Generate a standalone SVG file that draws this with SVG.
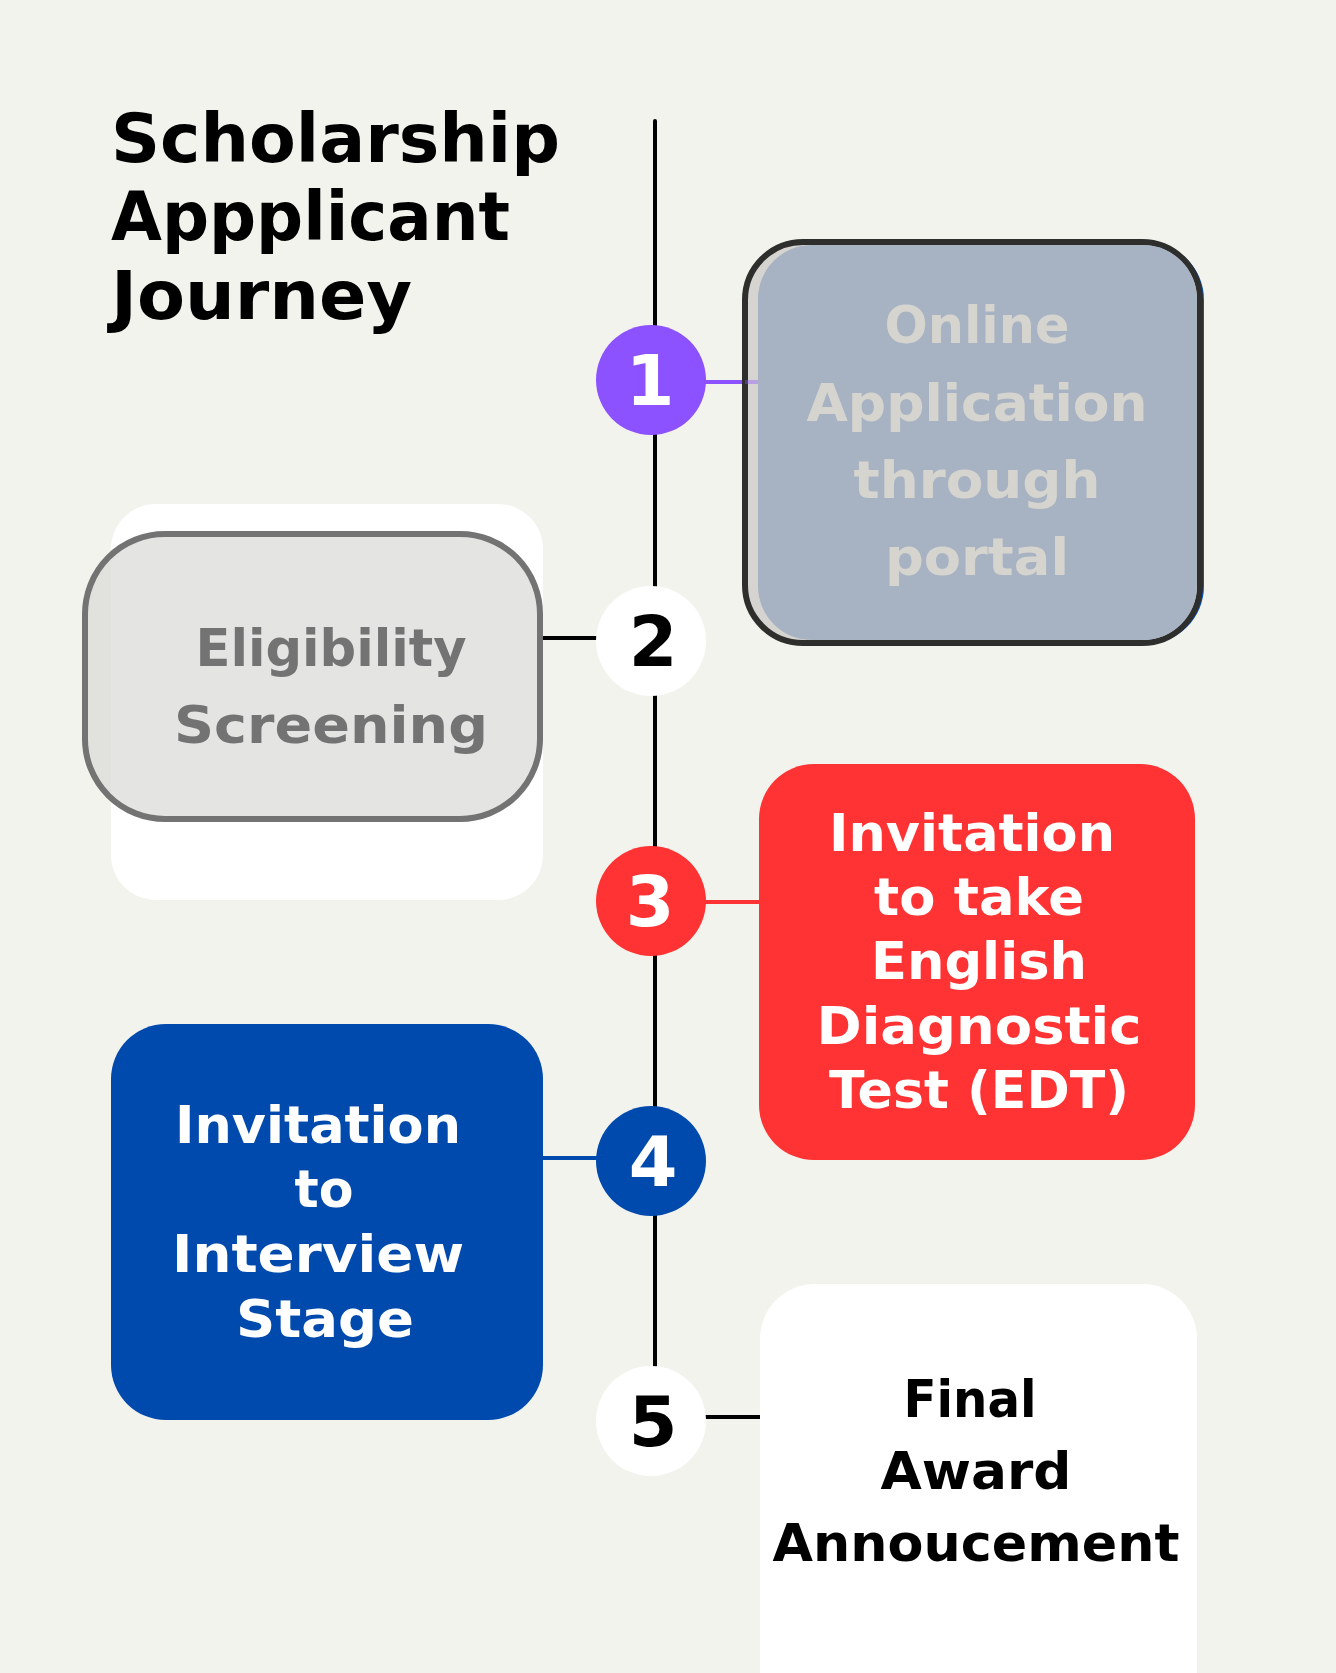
<svg xmlns="http://www.w3.org/2000/svg" width="1336" height="1673" viewBox="0 0 1336 1673">
<style>
  text { font-family: "DejaVu Sans", "Liberation Sans", sans-serif; font-weight: bold; }
  .title { font-size: 68px; fill: #000000; }
  .lbl { font-size: 52px; text-anchor: middle; }
  .num { font-size: 70px; text-anchor: middle; }
  .conn { stroke-width: 4; fill: none; }
</style>
<rect x="0" y="0" width="1336" height="1673" fill="#f3f3ee"/>

<g id="title">
  <text class="title" x="111" y="162" textLength="449" lengthAdjust="spacingAndGlyphs">Scholarship</text>
  <text class="title" x="111" y="240" textLength="399" lengthAdjust="spacingAndGlyphs">Appplicant</text>
  <text class="title" x="111" y="319" textLength="301" lengthAdjust="spacingAndGlyphs">Journey</text>
</g>

<g id="connectors">
  <line x1="655" y1="121" x2="655" y2="1366" stroke="#000000" stroke-width="4" stroke-linecap="round"/>
  <line class="conn" x1="700" y1="382" x2="745" y2="382" stroke="#8c52ff"/>
  <line class="conn" x1="543" y1="638" x2="600" y2="638" stroke="#000000"/>
  <line class="conn" x1="700" y1="902" x2="760" y2="902" stroke="#ff3333"/>
  <line class="conn" x1="543" y1="1158" x2="600" y2="1158" stroke="#004aad"/>
  <line class="conn" x1="700" y1="1417" x2="762" y2="1417" stroke="#000000"/>
</g>

<g id="step1">
  <rect x="751" y="242" width="453" height="402" rx="58" fill="#0b52c0"/>
  <rect x="745" y="242" width="455" height="401" rx="58" fill="#d5d4d0" stroke="#2e2e2c" stroke-width="6"/>
  <rect x="758" y="245" width="439" height="395" rx="54" fill="#a7b3c3"/>
  <line x1="745" y1="382" x2="758" y2="382" stroke="#8c52ff" stroke-width="4" opacity="0.4"/>
  <text class="lbl" x="977" y="343" fill="#d6d4cf" textLength="185" lengthAdjust="spacingAndGlyphs">Online</text>
  <text class="lbl" x="977" y="421" fill="#d6d4cf" textLength="341" lengthAdjust="spacingAndGlyphs">Application</text>
  <text class="lbl" x="977" y="498" fill="#d6d4cf" textLength="247" lengthAdjust="spacingAndGlyphs">through</text>
  <text class="lbl" x="977" y="575" fill="#d6d4cf" textLength="184" lengthAdjust="spacingAndGlyphs">portal</text>
</g>

<g id="circle1">
  <circle cx="651" cy="380" r="55" fill="#8c52ff"/>
  <text class="num" x="650" y="405" fill="#ffffff">1</text>
</g>

<g id="step2">
  <rect x="111" y="504" width="432" height="396" rx="45" fill="#ffffff"/>
  <rect x="85" y="534" width="455" height="285" rx="80" fill="#d9d8d5" fill-opacity="0.7" stroke="#737373" stroke-width="6"/>
  <text class="lbl" x="331" y="666" fill="#737373" textLength="271" lengthAdjust="spacingAndGlyphs">Eligibility</text>
  <text class="lbl" x="331" y="743" fill="#737373" textLength="314" lengthAdjust="spacingAndGlyphs">Screening</text>
</g>

<g id="circle2">
  <circle cx="651" cy="641" r="55" fill="#ffffff"/>
  <text class="num" x="653" y="666" fill="#000000">2</text>
</g>

<g id="step3">
  <rect x="759" y="764" width="436" height="396" rx="55" fill="#ff3333"/>
  <text class="lbl" x="972" y="851" fill="#ffffff" textLength="286" lengthAdjust="spacingAndGlyphs">Invitation</text>
  <text class="lbl" x="979" y="915" fill="#ffffff" textLength="210" lengthAdjust="spacingAndGlyphs">to take</text>
  <text class="lbl" x="979" y="979" fill="#ffffff" textLength="216" lengthAdjust="spacingAndGlyphs">English</text>
  <text class="lbl" x="979" y="1044" fill="#ffffff" textLength="325" lengthAdjust="spacingAndGlyphs">Diagnostic</text>
  <text class="lbl" x="979" y="1108" fill="#ffffff" textLength="300" lengthAdjust="spacingAndGlyphs">Test (EDT)</text>
</g>

<g id="circle3">
  <circle cx="651" cy="901" r="55" fill="#ff3333"/>
  <text class="num" x="650" y="926" fill="#ffffff">3</text>
</g>

<g id="step4">
  <rect x="111" y="1024" width="432" height="396" rx="55" fill="#004aad"/>
  <text class="lbl" x="318" y="1143" fill="#ffffff" textLength="286" lengthAdjust="spacingAndGlyphs">Invitation</text>
  <text class="lbl" x="324" y="1207" fill="#ffffff" textLength="59" lengthAdjust="spacingAndGlyphs">to</text>
  <text class="lbl" x="318" y="1272" fill="#ffffff" textLength="292" lengthAdjust="spacingAndGlyphs">Interview</text>
  <text class="lbl" x="325" y="1337" fill="#ffffff" textLength="178" lengthAdjust="spacingAndGlyphs">Stage</text>
</g>

<g id="circle4">
  <circle cx="651" cy="1161" r="55" fill="#004aad"/>
  <text class="num" x="653" y="1186" fill="#ffffff">4</text>
</g>

<g id="step5">
  <rect x="760" y="1284" width="437" height="460" rx="55" fill="#ffffff"/>
  <text class="lbl" x="970" y="1417" fill="#000000" textLength="133" lengthAdjust="spacingAndGlyphs">Final</text>
  <text class="lbl" x="976" y="1489" fill="#000000" textLength="191" lengthAdjust="spacingAndGlyphs">Award</text>
  <text class="lbl" x="976" y="1561" fill="#000000" textLength="407" lengthAdjust="spacingAndGlyphs">Annoucement</text>
</g>

<g id="circle5">
  <circle cx="651" cy="1421" r="55" fill="#ffffff"/>
  <text class="num" x="653" y="1446" fill="#000000">5</text>
</g>
</svg>
